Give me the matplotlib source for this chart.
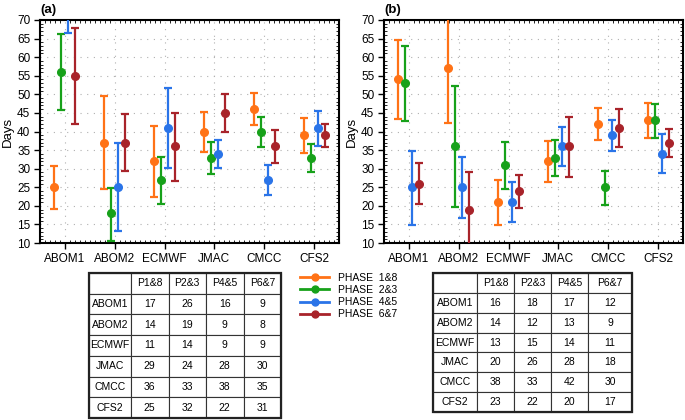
import numpy as np
import matplotlib
matplotlib.use('Agg')
import matplotlib.pyplot as plt
from matplotlib.lines import Line2D
from matplotlib.patches import Rectangle
from matplotlib.ticker import MultipleLocator

plt.rcParams['font.family'] = ['Liberation Sans', 'DejaVu Sans']

models = ['ABOM1', 'ABOM2', 'ECMWF', 'JMAC', 'CMCC', 'CFS2']
phases = ['PHASE  1&8', 'PHASE  2&3', 'PHASE  4&5', 'PHASE  6&7']
colors = ['#ff7216', '#17a11a', '#2a74e8', '#a8232a']

# panel (a): mean, lower, upper per phase (rows) and model (cols)
mean_a = [[25, 37, 32, 40, 46, 39],
          [56, 18, 27, 33, 40, 33],
          [76, 25, 41, 34, 27, 41],
          [55, 37, 36, 45, 36, 39]]
low_a = [[19.1, 24.4, 22.3, 34.6, 41.7, 34.3],
         [45.8, 10.6, 20.6, 28.6, 35.8, 29.1],
         [66.6, 13.1, 30.3, 30.2, 23.0, 36.2],
         [42.0, 29.3, 26.8, 39.8, 31.6, 35.7]]
high_a = [[30.7, 49.5, 41.6, 45.3, 50.3, 43.5],
          [66.1, 24.9, 33.1, 37.2, 44.0, 36.7],
          [85.0, 36.8, 51.6, 37.6, 30.9, 45.6],
          [67.9, 44.7, 45.0, 50.0, 40.3, 42.1]]

# panel (b)
mean_b = [[54, 57, 21, 32, 42, 43],
          [53, 36, 31, 33, 25, 43],
          [25, 25, 21, 36, 39, 34],
          [26, 19, 24, 36, 41, 37]]
low_b = [[43.3, 42.3, 14.9, 26.4, 37.6, 38.2],
         [42.8, 19.6, 24.6, 27.9, 20.3, 38.3],
         [14.9, 16.7, 15.6, 30.7, 34.8, 28.7],
         [20.4, 9.0, 19.5, 27.7, 35.7, 33.1]]
high_b = [[64.7, 72.0, 26.9, 37.4, 46.3, 47.6],
          [63.1, 52.3, 37.2, 37.8, 29.4, 47.5],
          [34.8, 33.1, 26.3, 41.1, 43.0, 39.2],
          [31.5, 29.0, 28.4, 44.0, 46.1, 40.7]]

# case counts tables
col_labels = ['P1&8', 'P2&3', 'P4&5', 'P6&7']
counts_a = [[17, 26, 16, 9],
            [14, 19, 9, 8],
            [11, 14, 9, 9],
            [29, 24, 28, 30],
            [36, 33, 38, 35],
            [25, 32, 22, 31]]
counts_b = [[16, 18, 17, 12],
            [14, 12, 13, 9],
            [13, 15, 14, 11],
            [20, 26, 28, 18],
            [38, 33, 42, 30],
            [23, 22, 20, 17]]

W, H = 685, 420
fig = plt.figure(figsize=(W / 100, H / 100), dpi=100)

offsets = [-0.21, -0.07, 0.07, 0.21]
x = np.arange(1, len(models) + 1)


def draw_panel(ax, mean, low, high, tag):
    for i in range(4):
        m = np.array(mean[i], dtype=float)
        lo = m - np.array(low[i])
        hi = np.array(high[i]) - m
        ax.errorbar(x + offsets[i], m, yerr=[lo, hi], fmt='o', color=colors[i],
                    ms=5.5, elinewidth=1.6, capsize=2.6, capthick=1.6, zorder=3)
    ax.set_xlim(0.5, 6.5)
    ax.set_ylim(10, 70)
    ax.set_xticks(x)
    ax.set_xticklabels(models, fontsize=8.5)
    ax.set_yticks(np.arange(10, 71, 5))
    ax.tick_params(axis='y', labelsize=8.5)
    ax.xaxis.set_minor_locator(MultipleLocator(0.1))
    ax.yaxis.set_minor_locator(MultipleLocator(1))
    ax.tick_params(which='major', direction='out', length=4, width=1, pad=3)
    ax.tick_params(which='minor', direction='in', length=2, width=0.6,
                   top=True, right=True)
    ax.grid(True, which='major', linestyle=(0, (1, 5)), color='#b0b0b0', lw=0.8)
    ax.set_axisbelow(True)
    for s in ax.spines.values():
        s.set_linewidth(1.5)
    ax.set_ylabel('Days', fontsize=9.5, labelpad=2)
    ax.text(0.0, 1.02, tag, transform=ax.transAxes, fontsize=9.5,
            fontweight='bold', ha='left', va='bottom')


ax_a = fig.add_axes([40 / W, 1 - 243 / H, 299 / W, 223 / H])
ax_b = fig.add_axes([384 / W, 1 - 243 / H, 299 / W, 223 / H])
draw_panel(ax_a, mean_a, low_a, high_a, '(a)')
draw_panel(ax_b, mean_b, low_b, high_b, '(b)')


def draw_table(rect, counts, widths):
    tax = fig.add_axes(rect)
    tax.axis('off')
    cells = [[''] + col_labels] + [[models[r]] + [str(v) for v in counts[r]]
                                   for r in range(len(models))]
    widths = np.array(widths, dtype=float)
    tbl = tax.table(cellText=cells, colWidths=list(widths / widths.sum()),
                    cellLoc='center', bbox=[0, 0, 1, 1])
    tbl.auto_set_font_size(False)
    tbl.set_fontsize(7.5)
    for cell in tbl.get_celld().values():
        cell.set_linewidth(0.8)
        cell.set_edgecolor('#333333')
    tax.add_patch(Rectangle((0, 0), 1, 1, transform=tax.transAxes, fill=False,
                            lw=1.6, edgecolor='#222222', clip_on=False))


draw_table([89 / W, 1 - 418 / H, 192 / W, 145 / H], counts_a,
           [42, 37.5, 37.5, 37.5, 37.5])
draw_table([433 / W, 1 - 412 / H, 199 / W, 139 / H], counts_b,
           [44, 37, 37, 37, 44])

handles = [Line2D([], [], color=c, lw=2, marker='o', ms=5) for c in colors]
fig.legend(handles, phases, loc='upper left', bbox_to_anchor=(300 / W, 1 - 273 / H),
           frameon=False, fontsize=7.5, handlelength=2.8, handletextpad=0.8,
           labelspacing=0.2, borderpad=0, borderaxespad=0)

fig.savefig('out.png', dpi=100)
